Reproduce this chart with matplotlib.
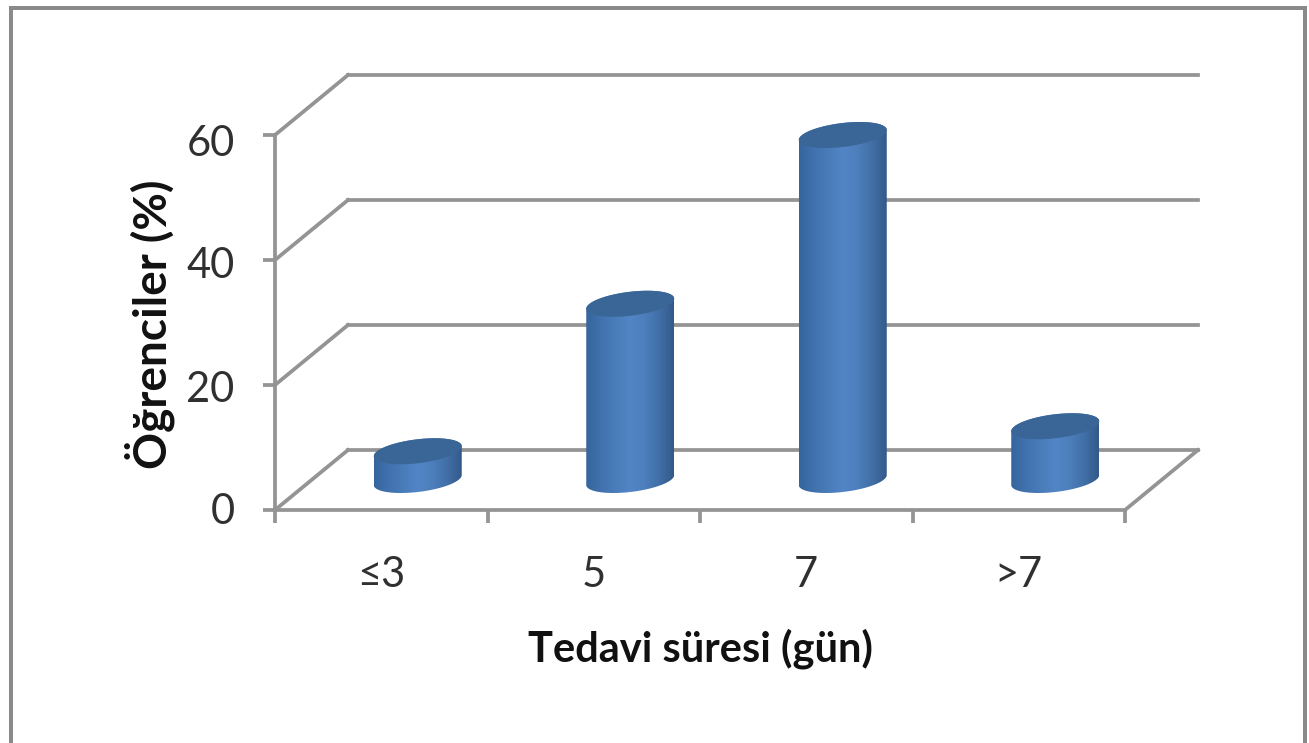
import numpy as np
import matplotlib
matplotlib.use('Agg')
import matplotlib.pyplot as plt
from matplotlib.colors import LinearSegmentedColormap
from matplotlib.patches import PathPatch, Rectangle
from matplotlib.path import Path
from matplotlib.transforms import ScaledTranslation

categories = ['≤3', '5', '7', '>7']
values = [4.6, 28.2, 55.2, 8.6]
y_ticks = [0, 20, 40, 60]

W, H = 1309, 743
line_col = '#949494'
text_col = '#303030'
lw = 2.7
plt.rcParams['font.family'] = ['Lato', 'DejaVu Sans']

fig = plt.figure(figsize=(W / 100, H / 100), dpi=100)
# eje frontal del grafico en pixeles de la imagen
x0, x1, y0, y1 = 275, 1125, 510, 135
ax = fig.add_axes([x0 / W, 1 - y0 / H, (x1 - x0) / W, (y0 - y1) / H])
ax.set_xlim(0, len(categories))
ax.set_ylim(0, 60)
ax.patch.set_visible(False)

# unidades de datos por pixel
ux = len(categories) / (x1 - x0)
uy = 60 / (y0 - y1)
depth_x = 73 * ux
depth_y = 60 * uy

# paredes del fondo
for v in y_ticks:
    ax.plot([0, depth_x], [v, v + depth_y], color=line_col, lw=lw, clip_on=False, zorder=1)
    ax.plot([depth_x, len(categories) + depth_x], [v + depth_y, v + depth_y],
            color=line_col, lw=lw, clip_on=False, zorder=1)
ax.plot([len(categories), len(categories) + depth_x], [0, depth_y],
        color=line_col, lw=lw, clip_on=False, zorder=1)

# cilindros
shade = LinearSegmentedColormap.from_list(
    'cil', ['#35659d', '#4172ae', '#4a7cba', '#5285c6', '#4d7fbc', '#416fa6', '#33598a'])
grad = np.linspace(0, 1, 256).reshape(1, -1)
a = 44 * ux
b = 12 * uy
tilt = 5 * uy
t = np.linspace(0, 2 * np.pi, 121)
for i, val in enumerate(values):
    cx = i + 0.5 + depth_x / 2
    base = depth_y / 2
    top = base + val
    ex = cx + a * np.cos(t)
    ey = b * np.sin(t) + tilt * np.cos(t)
    # lado: mitad inferior de la base y vuelta por arriba
    low = t[60:121]
    up = t[:61]
    side_x = np.r_[cx + a * np.cos(low), cx + a * np.cos(up)]
    side_y = np.r_[base + b * np.sin(low) + tilt * np.cos(low),
                   top + b * np.sin(up) + tilt * np.cos(up)]
    side = PathPatch(Path(np.c_[side_x, side_y]), transform=ax.transData,
                     fc='none', ec='none', clip_on=False)
    ax.add_patch(side)
    im = ax.imshow(grad, cmap=shade, aspect='auto', zorder=3,
                   extent=[cx - a, cx + a, base - b - tilt, top + b + tilt])
    im.set_clip_box(fig.bbox)
    im.set_clip_path(side)
    ax.fill(ex, top + ey, color='#3a6597', lw=0, zorder=4, clip_on=False)
ax.set_xlim(0, len(categories))
ax.set_ylim(0, 60)

# ejes
for s in ['top', 'right']:
    ax.spines[s].set_visible(False)
for s in ['left', 'bottom']:
    ax.spines[s].set_color(line_col)
    ax.spines[s].set_linewidth(lw)
    ax.spines[s].set_zorder(2)
ax.set_yticks(y_ticks)
ax.tick_params(axis='y', length=9, width=lw, color=line_col, pad=20,
               labelsize=30, labelcolor=text_col)
# las etiquetas del eje y no caen justo en la marca (pixeles hacia abajo)
for lab, off in zip(ax.get_yticklabels(), [-2, 1, 3, 5]):
    lab.set_transform(lab.get_transform() + ScaledTranslation(0, -off / 100, fig.dpi_scale_trans))
ax.set_xticks(range(len(categories) + 1))
ax.set_xticklabels([])
ax.set_xticks(np.arange(len(categories)) + 0.5, minor=True)
ax.set_xticklabels(categories, minor=True)
ax.tick_params(axis='x', which='major', length=9, width=lw, color=line_col)
ax.tick_params(axis='x', which='minor', length=0, pad=33, labelsize=30, labelcolor=text_col)

fig.text(700 / W, 1 - 649 / H, 'Tedavi süresi (gün)', ha='center', va='center',
         fontsize=30, fontweight='bold', color='#111111')
fig.text(150 / W, 1 - 324 / H, 'Öğrenciler (%)', ha='center', va='center', rotation=90,
         fontsize=33, fontweight='bold', color='#111111')

# marco exterior, sin borde inferior
for x, y, w, h in [(9, 6, 1298, 4), (9, 6, 4, 737), (1303, 6, 4, 737)]:
    fig.add_artist(Rectangle((x / W, 1 - (y + h) / H), w / W, h / H, transform=fig.transFigure,
                             fc='#8a8a8a', ec='none'))

fig.savefig('out.png', dpi=100)
